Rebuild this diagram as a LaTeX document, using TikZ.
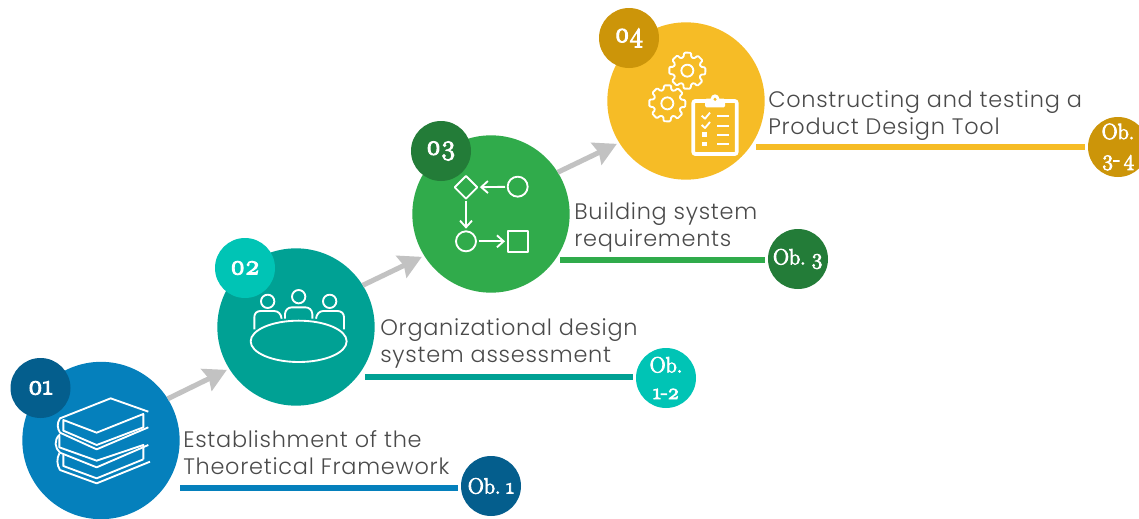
\documentclass[tikz,border=0pt]{standalone}
\usepackage{fontspec}
\usepackage{tikz}
\usetikzlibrary{arrows.meta}
\usetikzlibrary{calc}
\usetikzlibrary{shapes.geometric}

\newfontfamily\labelfont[UprightFont=* Light, LetterSpace=3.3]{Poppins}
\newfontfamily\badgefont[Numbers=OldStyle, FakeBold=4, WordSpace=0.5]{Latin Modern Roman}

\definecolor{blueA}{HTML}{0580BC}
\definecolor{blueB}{HTML}{045E8D}
\definecolor{tealA}{HTML}{00A194}
\definecolor{tealB}{HTML}{00C4B5}
\definecolor{greenA}{HTML}{30AB4B}
\definecolor{greenB}{HTML}{237C38}
\definecolor{yellowA}{HTML}{F6BC26}
\definecolor{yellowB}{HTML}{CC9509}
\definecolor{stepgray}{HTML}{C2C2C2}
\definecolor{textgray}{HTML}{4A4A4A}

\tikzset{
   bigdot/.style={circle, fill=#1, draw=none, inner sep=0, outer sep=0, minimum size=118pt},
   badge/.style={circle, fill=#1, draw=none, inner sep=0, outer sep=0, minimum size=45pt,
      text=white, align=center, font=\badgefont\fontsize{16.5}{20}\selectfont},
   numlabel/.style={font=\badgefont\fontsize{21}{20}\selectfont},
   steplabel/.style={anchor=west, align=left, inner sep=0, text=textgray,
      font=\labelfont\fontsize{16.8}{20.2}\selectfont},
   steparrow/.style={draw=stepgray, line width=3.8pt, shorten >=2pt,
      -{Stealth[length=17pt, width=18pt, inset=2pt]}},
   bar/.style={line width=4.5pt, shorten >=2pt},
   iconline/.style={draw=white, line width=1.4pt, line join=round},
   flowarrow/.style={iconline, -{Straight Barb[length=5pt, width=9pt]}, shorten >=2pt, shorten <=2pt},
   flowshape/.style={iconline, inner sep=0, outer sep=0},
}

\newcommand{\gearicon}[2]{
   \draw [iconline, rounded corners=.8pt] ($(#1, #2) + (102:55)$)
      \foreach \a in {90, 45, 0, -45, -90, -135, -180, -225} {
         -- ($(#1, #2) + (\a+12:55)$) -- ($(#1, #2) + (\a-10:55)$)
         -- ($(#1, #2) + (\a-16:42)$) -- ($(#1, #2) + (\a-29:42)$)
      } -- cycle;
   \draw [iconline] (#1, #2) circle (18);
}

\begin{document}
\begin{tikzpicture}[x=.75pt, y=-.75pt]
   \clip (0, 0) rectangle (1139, 518);

   % big circles
   \node [bigdot=blueA] (circ1) at (101, 440.5) {};
   \node [bigdot=tealA] (circ2) at (296, 327) {};
   \node [bigdot=greenA] (circ3) at (491, 214) {};
   \node [bigdot=yellowA] (circ4) at (686, 101) {};

   % number badges
   \node [badge=blueB, numlabel] (num1) at (40.5, 388) {01};
   \node [badge=tealB, numlabel] (num2) at (245, 268) {02};
   \node [badge=greenB, numlabel] (num3) at (441, 151) {03};
   \node [badge=yellowB, numlabel] (num4) at (629, 38) {04};

   % arrows between the circles
   \draw [steparrow] (circ1.32) -- (circ2.212);
   \draw [steparrow] (circ2.32) -- (circ3.212);
   \draw [steparrow] (circ3.32) -- (circ4.212);

   % objective badges
   \node [badge=blueB] (ob1) at (491, 486) {Ob. 1};
   \node [badge=tealB] (ob2) at (666, 378) {Ob.\\1-2};
   \node [badge=greenB] (ob3) at (798, 259) {Ob. 3};
   \node [badge=yellowB] (ob4) at (1118, 147) {Ob.\\3- 4};

   \coordinate (bar1) at (180, 487.5);
   \coordinate (bar2) at (365, 377);
   \coordinate (bar3) at (560, 260);
   \coordinate (bar4) at (756, 147);
   \draw [bar, blueA] (bar1) -- (ob1.west |- bar1);
   \draw [bar, tealA] (bar2) -- (ob2.west |- bar2);
   \draw [bar, greenA] (bar3) -- (ob3.west |- bar3);
   \draw [bar, yellowA] (bar4) -- (ob4.west |- bar4);

   % texts
   \node [steplabel] (text1) at (183, 453) {Establishment of the\\Theoretical Framework};
   \node [steplabel] (text2) at (380, 343) {Organizational design\\system assessment};
   \node [steplabel] (text3) at (574, 227.5) {Building system\\requirements};
   \node [steplabel] (text4) at (768, 115.5) {Constructing and testing a\\Product Design Tool};

   % books
   \begin{scope}[shift={(0, 340)}, x=.25pt, y=-.25pt]
      \draw [iconline] (445, 215) -- (332, 175) -- (180, 235) .. controls (170, 250) and (172, 265) .. (180, 278)
         -- (290, 328) -- (445, 262);
      \draw [iconline] (430, 222) -- (290, 278) -- (190, 240) -- (190, 272) -- (290, 315) -- (430, 262) -- cycle;
      \draw [iconline] (180, 283) .. controls (160, 300) and (165, 325) .. (180, 338) -- (290, 382) -- (445, 315);
      \draw [iconline] (178, 288) -- (178, 322) -- (290, 362) -- (430, 315) -- (430, 358);
      \draw [iconline] (178, 340) .. controls (170, 355) and (170, 375) .. (180, 390) -- (290, 430) -- (450, 365);
      \draw [iconline] (190, 345) -- (190, 378) -- (290, 415) -- (430, 358);
   \end{scope}

   % people round a table
   \begin{scope}[shift={(200, 230)}, x=.25pt, y=-.25pt]
      \draw [iconline] (203, 214) circle (20);
      \draw [iconline] (296, 200) circle (20);
      \draw [iconline] (389, 214) circle (20);
      \draw [iconline] (163, 298) -- (163, 262) .. controls (163, 250) and (170, 243) .. (182, 243)
         -- (222, 243) .. controls (235, 243) and (243, 252) .. (245, 266);
      \draw [iconline] (255, 266) -- (255, 252) .. controls (256, 240) and (264, 232) .. (276, 232)
         -- (316, 232) .. controls (328, 232) and (336, 240) .. (337, 252) -- (337, 266);
      \draw [iconline] (348, 266) .. controls (350, 252) and (358, 243) .. (370, 243)
         -- (412, 243) .. controls (424, 243) and (432, 250) .. (432, 262) -- (432, 298);
      \draw [iconline] (296, 334) ellipse (144 and 62);
   \end{scope}

   % flow chart
   \begin{scope}[shift={(400, 120)}, x=.25pt, y=-.25pt]
      \node [flowshape, diamond, draw, minimum size=17pt] (fd) at (198, 202) {};
      \node [flowshape, circle, draw, minimum size=15pt] (fa) at (353, 200) {};
      \node [flowshape, circle, draw, minimum size=15pt] (fb) at (198, 364) {};
      \node [flowshape, rectangle, draw, minimum size=15.5pt] (fc) at (354, 364) {};
      \draw [flowarrow] (fa) -- (fd);
      \draw [flowarrow] (fd) -- (fb);
      \draw [flowarrow] (fb) -- (fc);
   \end{scope}

   % gears and clipboard
   \begin{scope}[shift={(590, 0)}, x=.25pt, y=-.25pt]
      \gearicon{292}{212}
      \gearicon{232}{310}
      \draw [draw=white, line width=2.8pt, rounded corners=1.5pt] (310, 303) rectangle (440, 462);
      \fill [white, rounded corners=1pt] (345, 296) rectangle (405, 322);
      \fill [white] (375, 296) circle (13);
      \fill [yellowA] (375, 298) circle (5);
      \draw [iconline] (335, 347) -- (345, 356) -- (360, 338);
      \draw [iconline] (335, 375) -- (345, 384) -- (360, 366);
      \fill [white] (337, 396) rectangle (352, 410);
      \fill [white] (337, 425) rectangle (352, 439);
      \draw [iconline, line width=1.5pt] (382, 349) -- (418, 349);
      \draw [iconline, line width=1.5pt] (382, 377) -- (418, 377);
      \draw [iconline, line width=1.5pt] (382, 404) -- (418, 404);
      \draw [iconline, line width=1.5pt] (382, 432) -- (418, 432);
   \end{scope}
\end{tikzpicture}
\end{document}
